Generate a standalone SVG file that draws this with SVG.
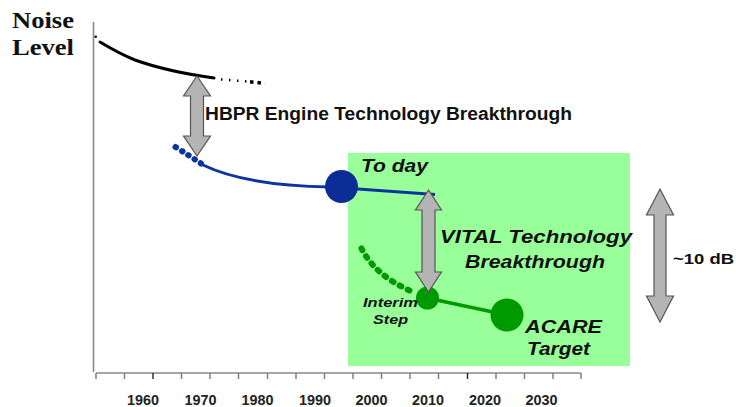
<svg xmlns="http://www.w3.org/2000/svg" width="736" height="407" viewBox="0 0 736 407">
<style>
.ttl{font-family:"Liberation Serif","Times New Roman",serif;font-weight:bold;font-size:23px;fill:#111}
.lbl{font-family:"Liberation Sans",Arial,sans-serif;font-weight:bold;fill:#111}
.it{font-style:italic}
.yr{font-family:"Liberation Sans",Arial,sans-serif;font-weight:bold;font-size:15px;fill:#222;text-anchor:middle}
.arr{fill:#b4b4b4;stroke:#555;stroke-width:1.2;stroke-linejoin:miter}
.axis{stroke:#888;stroke-width:1.6;fill:none}
.tick{stroke:#777;stroke-width:1.4}
</style>
<rect width="736" height="407" fill="#fff"/>
<g id="title">
<text class="ttl" x="12" y="28" textLength="62" lengthAdjust="spacingAndGlyphs">Noise</text>
<text class="ttl" x="12" y="55" textLength="62" lengthAdjust="spacingAndGlyphs">Level</text>
</g>
<g id="target-zone">
<rect x="348" y="153" width="282" height="213" fill="#99ff99"/>
</g>
<g id="axes">
<line class="axis" x1="93.5" y1="22" x2="93.5" y2="372"/>
<line class="axis" x1="96" y1="373" x2="581" y2="373"/>
<g class="tick">
<line x1="96" y1="373" x2="96" y2="379"/><line x1="124.5" y1="373" x2="124.5" y2="379"/>
<line x1="153" y1="373" x2="153" y2="379" stroke="#222"/><line x1="181.5" y1="373" x2="181.5" y2="379"/>
<line x1="210" y1="373" x2="210" y2="379"/><line x1="238.5" y1="373" x2="238.5" y2="379"/>
<line x1="267.5" y1="373" x2="267.5" y2="379"/><line x1="296" y1="373" x2="296" y2="379"/>
<line x1="324.5" y1="373" x2="324.5" y2="379"/><line x1="353" y1="373" x2="353" y2="379"/>
<line x1="381.5" y1="373" x2="381.5" y2="379"/><line x1="410" y1="373" x2="410" y2="379"/>
<line x1="438.5" y1="373" x2="438.5" y2="379"/><line x1="467.5" y1="373" x2="467.5" y2="379" stroke="#222"/>
<line x1="496" y1="373" x2="496" y2="379"/><line x1="524.5" y1="373" x2="524.5" y2="379"/>
<line x1="553" y1="373" x2="553" y2="379"/><line x1="581" y1="373" x2="581" y2="379"/>
</g>
<text class="yr" x="143" y="405" textLength="32" lengthAdjust="spacingAndGlyphs">1960</text>
<text class="yr" x="200.5" y="405" textLength="32" lengthAdjust="spacingAndGlyphs">1970</text>
<text class="yr" x="257.5" y="405" textLength="32" lengthAdjust="spacingAndGlyphs">1980</text>
<text class="yr" x="315" y="405" textLength="32" lengthAdjust="spacingAndGlyphs">1990</text>
<text class="yr" x="371.5" y="405" textLength="32" lengthAdjust="spacingAndGlyphs">2000</text>
<text class="yr" x="428" y="405" textLength="32" lengthAdjust="spacingAndGlyphs">2010</text>
<text class="yr" x="485" y="405" textLength="32" lengthAdjust="spacingAndGlyphs">2020</text>
<text class="yr" x="541.5" y="405" textLength="32" lengthAdjust="spacingAndGlyphs">2030</text>
</g>
<g id="connectors">
<circle cx="95.7" cy="36.7" r="1.3" fill="#000"/>
<path d="M100,42 C115,51 125,56 135,60 C160,69 185,74 214,78" fill="none" stroke="#000" stroke-width="3" stroke-linecap="round"/>
<path d="M221,79.5 L247,81.5" fill="none" stroke="#000" stroke-width="2.5" stroke-dasharray="1.5 6.5"/>
<path d="M250,81.8 L265,83.3" fill="none" stroke="#000" stroke-width="3.5" stroke-dasharray="3.5 4"/>
<path d="M175.5,147 C185,153 193,158 201,163.5" fill="none" stroke="#0a35a0" stroke-width="6" stroke-dasharray="0.5 7" stroke-linecap="round"/>
<path d="M203,165 C230,178 270,186 330,187 L435,194.5" fill="none" stroke="#0a35a0" stroke-width="3"/>
<path d="M361.5,248.5 C370,265 385,280 413,292" fill="none" stroke="#009900" stroke-width="6" stroke-dasharray="2 7" stroke-linecap="round"/>
<path d="M427,298 L507,315" fill="none" stroke="#009900" stroke-width="3.5"/>
</g>
<g id="today">
<circle cx="341.5" cy="186.5" r="16.5" fill="#0a2e96"/>
<text class="lbl it" x="361" y="172" font-size="18" textLength="67" lengthAdjust="spacingAndGlyphs">To day</text>
</g>
<g id="interim">
<circle cx="427.5" cy="298" r="11.5" fill="#009900"/>
<text class="lbl it" x="363" y="306.5" font-size="12.5" textLength="55" lengthAdjust="spacingAndGlyphs">Interim</text>
<text class="lbl it" x="373" y="324" font-size="12.5" textLength="35" lengthAdjust="spacingAndGlyphs">Step</text>
</g>
<g id="acare">
<circle cx="507" cy="315" r="16.5" fill="#009900"/>
<text class="lbl it" x="525" y="333" font-size="18.5" textLength="77" lengthAdjust="spacingAndGlyphs">ACARE</text>
<text class="lbl it" x="527" y="355" font-size="18.5" textLength="63" lengthAdjust="spacingAndGlyphs">Target</text>
</g>
<g id="hbpr">
<polygon class="arr" points="197,76 210.5,96 203.5,96 203.5,136 210.5,136 197,156 183.5,136 190.5,136 190.5,96 183.5,96"/>
<text class="lbl" x="205" y="120" font-size="18" textLength="367" lengthAdjust="spacingAndGlyphs">HBPR Engine Technology Breakthrough</text>
</g>
<g id="vital">
<polygon class="arr" points="428.5,190 441.5,210 435,210 435,272 441.5,272 428.5,292 415.5,272 422,272 422,210 415.5,210"/>
<text class="lbl it" x="440" y="243" font-size="18.5" textLength="192" lengthAdjust="spacingAndGlyphs">VITAL Technology</text>
<text class="lbl it" x="465" y="268" font-size="18.5" textLength="140" lengthAdjust="spacingAndGlyphs">Breakthrough</text>
</g>
<g id="db">
<polygon class="arr" points="660,189 673.5,215 666,215 666,296 673.5,296 660,322 646.5,296 654,296 654,215 646.5,215"/>
<text class="lbl" x="673" y="263.5" font-size="15" textLength="61" lengthAdjust="spacingAndGlyphs">~10 dB</text>
</g>
</svg>
